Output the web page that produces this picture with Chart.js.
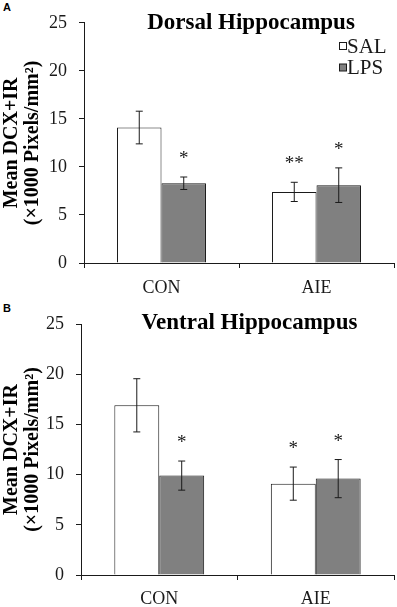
<!DOCTYPE html>
<html>
<head>
<meta charset="utf-8">
<script src="https://cdn.jsdelivr.net/npm/chart.js@4"></script>
<style>
  body { margin: 0; background: #fff; }
  #page { position: relative; width: 397px; height: 607px; background: #fff; }
  .panel { position: absolute; left: 0; width: 397px; }
  .tag { position: absolute; left: 3px; font: bold 11px "Liberation Sans", Arial, sans-serif; color: #000; }
</style>
</head>
<body>
<div id="page">
  <div class="tag" style="top:1px">A</div>
  <div class="panel" style="top:0;height:300px"><canvas id="dorsal"></canvas></div>
  <div class="tag" style="top:302px">B</div>
  <div class="panel" style="top:300px;height:307px"><canvas id="ventral"></canvas></div>
</div>
<script>
// datos
const categories = ['CON', 'AIE'];
const seriesNames = ['SAL', 'LPS'];
const yMax = 25;
const yStep = 5;

const dorsalSal = [14.1, 7.4];
const dorsalSalErr = [1.7, 1.0];
const dorsalLps = [8.3, 8.1];
const dorsalLpsErr = [0.65, 1.8];
const dorsalSalSig = ['', '**'];
const dorsalLpsSig = ['*', '*'];

const ventralSal = [16.9, 9.1];
const ventralSalErr = [2.65, 1.65];
const ventralLps = [9.9, 9.6];
const ventralLpsErr = [1.45, 1.9];
const ventralSalSig = ['', '*'];
const ventralLpsSig = ['*', '*'];

const serif = "'Liberation Serif', 'Times New Roman', serif";
const ink = '#1a1a1a';

// barras de error + asteriscos + titulo + leyenda
const extrasPlugin = {
    id: 'extras',
    afterDatasetsDraw(chart, args, opts) {
        const ctx = chart.ctx;
        const yScale = chart.scales.y;
        ctx.save();
        chart.data.datasets.forEach((ds, i) => {
            const meta = chart.getDatasetMeta(i);
            meta.data.forEach((bar, j) => {
                const v = ds.data[j];
                const e = ds.errors[j];
                const yTop = yScale.getPixelForValue(v + e);
                const yBot = yScale.getPixelForValue(v - e);
                ctx.strokeStyle = ink;
                ctx.lineWidth = 1;
                ctx.beginPath();
                ctx.moveTo(bar.x, yTop); ctx.lineTo(bar.x, yBot);
                ctx.moveTo(bar.x - 3.5, yTop); ctx.lineTo(bar.x + 3.5, yTop);
                ctx.moveTo(bar.x - 3.5, yBot); ctx.lineTo(bar.x + 3.5, yBot);
                ctx.stroke();
                if (ds.sig[j]) {
                    ctx.fillStyle = ink;
                    ctx.font = '19px ' + serif;
                    ctx.textAlign = 'center';
                    ctx.textBaseline = 'alphabetic';
                    ctx.fillText(ds.sig[j], bar.x, yTop - 13);
                }
            });
        });

        const area = chart.chartArea;
        ctx.fillStyle = '#000';
        ctx.font = 'bold 23px ' + serif;
        ctx.textAlign = 'center';
        ctx.textBaseline = 'middle';
        ctx.fillText(opts.title, (area.left + area.right) / 2 + 12, area.top + opts.titleDy);

        if (opts.legend) {
            ctx.font = '21px ' + serif;
            ctx.textAlign = 'left';
            chart.data.datasets.forEach((ds, i) => {
                const cy = 46 + i * 21.5;
                ctx.fillStyle = ds.backgroundColor;
                ctx.fillRect(339.5, cy - 3.5, 7, 7);
                ctx.strokeStyle = ink;
                ctx.lineWidth = 1;
                ctx.strokeRect(339.5, cy - 3.5, 7, 7);
                ctx.fillStyle = ink;
                ctx.fillText(ds.label, 347, cy + 1);
            });
        }
        ctx.restore();
    }
};

function makePanel(id, sal, salErr, salSig, lps, lpsErr, lpsSig, cfg) {
    const ctx = document.getElementById(id).getContext('2d');
    return new Chart(ctx, {
        type: 'bar',
        data: {
            labels: categories,
            datasets: [
                { label: seriesNames[0], data: sal, errors: salErr, sig: salSig,
                  backgroundColor: '#ffffff', borderColor: ink, borderWidth: 1 },
                { label: seriesNames[1], data: lps, errors: lpsErr, sig: lpsSig,
                  backgroundColor: '#808080', borderColor: ink, borderWidth: 1 }
            ]
        },
        options: {
            responsive: true,
            maintainAspectRatio: false,
            devicePixelRatio: 1,
            animation: false,
            datasets: { bar: { categoryPercentage: 0.574, barPercentage: 1 } },
            layout: { padding: { top: cfg.top, right: 3, left: 0, bottom: 0 } },
            plugins: {
                legend: { display: false },
                tooltip: { enabled: false },
                extras: { title: cfg.title, titleDy: cfg.titleDy, legend: cfg.legend }
            },
            scales: {
                x: {
                    afterFit: s => { s.height = cfg.xHeight; },
                    grid: { display: true, drawOnChartArea: false, tickLength: 5, color: ink },
                    border: { display: true, color: ink, width: 1 },
                    ticks: { color: ink, padding: cfg.xPad, font: { family: serif, size: 18 } }
                },
                y: {
                    min: 0,
                    max: yMax,
                    afterFit: s => { s.width = cfg.yWidth; },
                    grid: { display: true, drawOnChartArea: false, tickLength: 5, color: ink },
                    border: { display: true, color: ink, width: 1 },
                    ticks: { stepSize: yStep, color: ink, padding: 12, font: { family: serif, size: 18 } },
                    title: {
                        display: true,
                        text: ['Mean DCX+IR', '(\u00d71000 Pixels/mm\u00b2)'],
                        color: '#000',
                        padding: { top: 1.5, bottom: 0 },
                        font: { family: serif, size: 20, weight: 'bold', lineHeight: 21 / 20 }
                    }
                }
            }
        },
        plugins: [extrasPlugin]
    });
}

makePanel('dorsal', dorsalSal, dorsalSalErr, dorsalSalSig, dorsalLps, dorsalLpsErr, dorsalLpsSig,
    { title: 'Dorsal Hippocampus', titleDy: 0, legend: true, top: 12, xHeight: 37, xPad: 9, yWidth: 84 });
makePanel('ventral', ventralSal, ventralSalErr, ventralSalSig, ventralLps, ventralLpsErr, ventralLpsSig,
    { title: 'Ventral Hippocampus', titleDy: -1, legend: false, top: 24, xHeight: 32, xPad: 8, yWidth: 81 });
</script>
</body>
</html>
